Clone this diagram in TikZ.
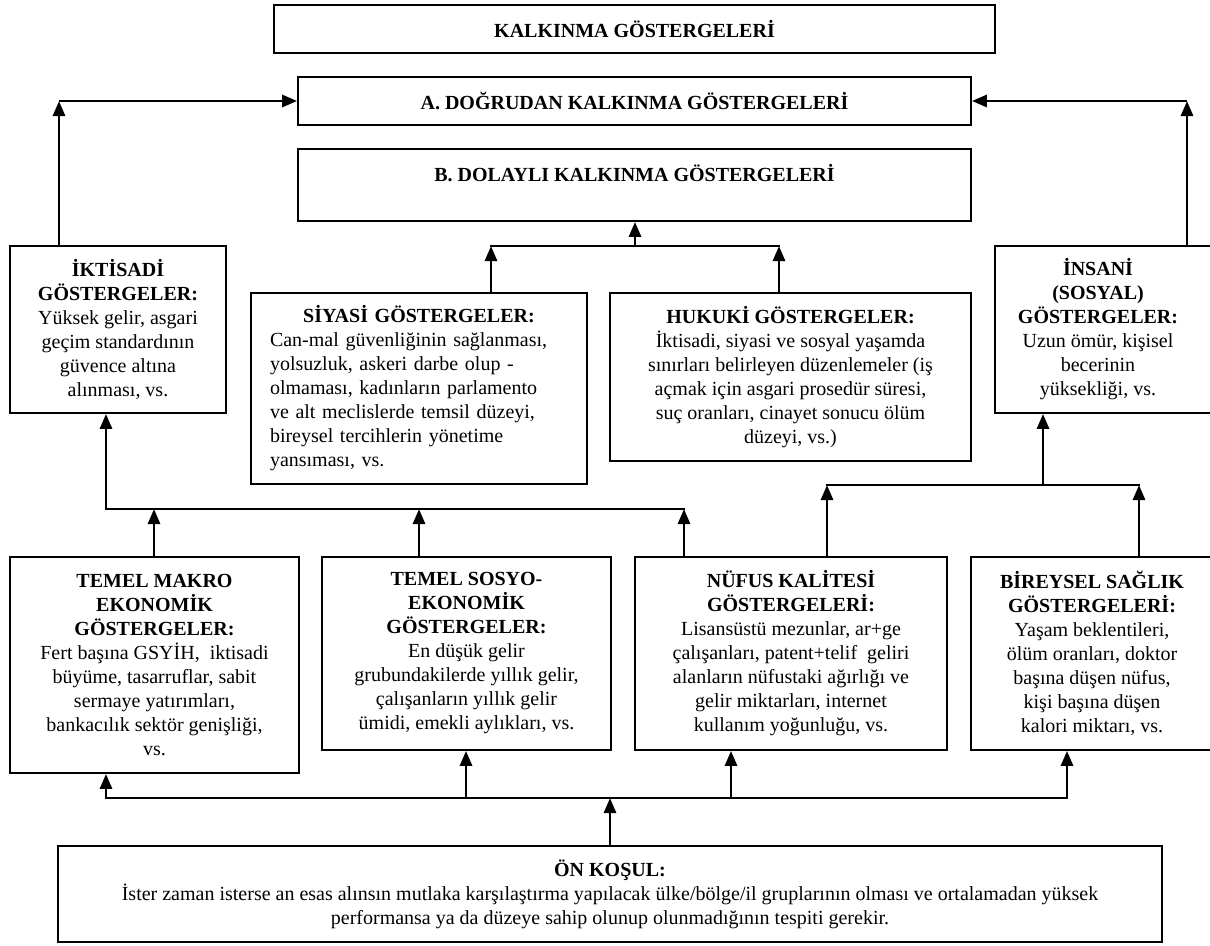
\documentclass[tikz,border=0pt]{standalone}
\usepackage{fontspec}
\setmainfont{Liberation Serif}
\usetikzlibrary{arrows.meta}
\begin{document}
\begin{tikzpicture}[x=1pt,y=-1pt,
  box/.style={draw, line width=1.8pt, inner sep=0pt, align=center, font=\fontsize{20}{24}\selectfont},
  txt/.style={inner sep=0pt, align=center, font=\fontsize{20}{24}\selectfont},
  arr/.style={line width=2.9pt, -{Triangle[length=15pt,width=12pt]}},
  ln/.style={line width=2.9pt, line cap=rect}]
\useasboundingbox (0,0) rectangle (1210,945);

% top boxes
\node[box, minimum width=721, minimum height=48] (title) at (634.5,29) {\textbf{KALKINMA GÖSTERGELERİ}};
\node[box, minimum width=673, minimum height=48] (A) at (634.5,101) {\textbf{A. DOĞRUDAN KALKINMA GÖSTERGELERİ}};
\node[box, minimum width=673, minimum height=72] (B) at (634.5,185) {\textbf{B. DOLAYLI KALKINMA GÖSTERGELERİ}\\\mbox{}};

% second level
\node[box, minimum width=216, minimum height=167] (ikt) at (118,329.5)
  {\textbf{İKTİSADİ}\\\textbf{GÖSTERGELER:}\\Yüksek gelir, asgari\\geçim standardının\\güvence altına\\alınması, vs.};
\node[box, minimum width=336, minimum height=191, text width=298pt, align=left] (siy) at (419,388.5)
  {\makebox[298pt]{\textbf{SİYASİ GÖSTERGELER:}}\\Can-mal güvenliğinin sağlanması,\\yolsuzluk, askeri darbe olup -\\olmaması, kadınların parlamento\\ve alt meclislerde temsil düzeyi,\\bireysel tercihlerin yönetime\\yansıması, vs.};
\node[box, minimum width=361, minimum height=168] (huk) at (790.5,377)
  {\textbf{HUKUKİ GÖSTERGELER:}\\İktisadi, siyasi ve sosyal yaşamda\\sınırları belirleyen düzenlemeler (iş\\açmak için asgari prosedür süresi,\\suç oranları, cinayet sonucu ölüm\\düzeyi, vs.)};
\node[box, minimum width=225, minimum height=167] (ins) at (1107.5,329.5) {};
\node[txt] (inst) at (1098,329.5)
  {\textbf{İNSANİ}\\\textbf{(SOSYAL)}\\\textbf{GÖSTERGELER:}\\Uzun ömür, kişisel\\becerinin\\yüksekliği, vs.};

% third level
\node[box, minimum width=289, minimum height=216] (mak) at (154.5,665)
  {\textbf{TEMEL MAKRO}\\\textbf{EKONOMİK}\\\textbf{GÖSTERGELER:}\\Fert başına GSYİH,\ \ iktisadi\\büyüme, tasarruflar, sabit\\sermaye yatırımları,\\bankacılık sektör genişliği,\\vs.};
\node[box, minimum width=289, minimum height=193] (sos) at (466.5,653.5)
  {\textbf{TEMEL SOSYO-}\\\textbf{EKONOMİK}\\\textbf{GÖSTERGELER:}\\En düşük gelir\\grubundakilerde yıllık gelir,\\çalışanların yıllık gelir\\ümidi, emekli aylıkları, vs.};
\node[box, minimum width=312, minimum height=193] (nuf) at (791,653.5)
  {\textbf{NÜFUS KALİTESİ}\\\textbf{GÖSTERGELERİ:}\\Lisansüstü mezunlar, ar+ge\\çalışanları, patent+telif\ \ geliri\\alanların nüfustaki ağırlığı ve\\gelir miktarları, internet\\kullanım yoğunluğu, vs.};
\node[box, minimum width=249, minimum height=193] (bir) at (1095.5,653.5) {};
\node[txt] (birt) at (1092,653.5)
  {\textbf{BİREYSEL SAĞLIK}\\\textbf{GÖSTERGELERİ:}\\Yaşam beklentileri,\\ölüm oranları, doktor\\başına düşen nüfus,\\kişi başına düşen\\kalori miktarı, vs.};

% bottom
\node[box, minimum width=1104, minimum height=96] (on) at (610,894)
  {\textbf{ÖN KOŞUL:}\\İster zaman isterse an esas alınsın mutlaka karşılaştırma yapılacak ülke/bölge/il gruplarının olması ve ortalamadan yüksek\\performansa ya da düzeye sahip olunup olunmadığının tespiti gerekir.};

% connectors to A
\coordinate (cA1) at (59,101);
\coordinate (cA2) at (1187,101);
\draw[arr] (ikt.north -| cA1) -- (cA1);
\draw[arr] (cA1) -- (A.west);
\draw[arr] (ins.north -| cA2) -- (cA2);
\draw[arr] (cA2) -- (A.east);

% connectors to B
\coordinate (bL) at (491,246);
\coordinate (bR) at (779,246);
\coordinate (bM) at (635,246);
\draw[arr] (siy.north -| bL) -- (bL);
\draw[arr] (huk.north -| bR) -- (bR);
\draw[ln] (bL) -- (bR);
\draw[arr] (bM) -- (B.south -| bM);

% middle left
\coordinate (m0) at (106,509);
\coordinate (m1) at (154,509);
\coordinate (m2) at (419,509);
\coordinate (m3) at (684,509);
\draw[ln] (m0) -- (m3);
\draw[arr] (m0) -- (ikt.south -| m0);
\draw[arr] (mak.north -| m1) -- (m1);
\draw[arr] (sos.north -| m2) -- (m2);
\draw[arr] (nuf.north -| m3) -- (m3);

% middle right
\coordinate (r1) at (827,485);
\coordinate (r2) at (1139,485);
\coordinate (rM) at (1043,485);
\draw[ln] (r1) -- (r2);
\draw[arr] (nuf.north -| r1) -- (r1);
\draw[arr] (bir.north -| r2) -- (r2);
\draw[arr] (rM) -- (ins.south -| rM);

% bottom
\coordinate (d0) at (106,798);
\coordinate (d1) at (466,798);
\coordinate (d2) at (731,798);
\coordinate (d3) at (1067,798);
\coordinate (dM) at (610,798);
\draw[ln] (d0) -- (d3);
\draw[arr] (d0) -- (mak.south -| d0);
\draw[arr] (d1) -- (sos.south -| d1);
\draw[arr] (d2) -- (nuf.south -| d2);
\draw[arr] (d3) -- (bir.south -| d3);
\draw[arr] (on.north -| dM) -- (dM);
\end{tikzpicture}
\end{document}
